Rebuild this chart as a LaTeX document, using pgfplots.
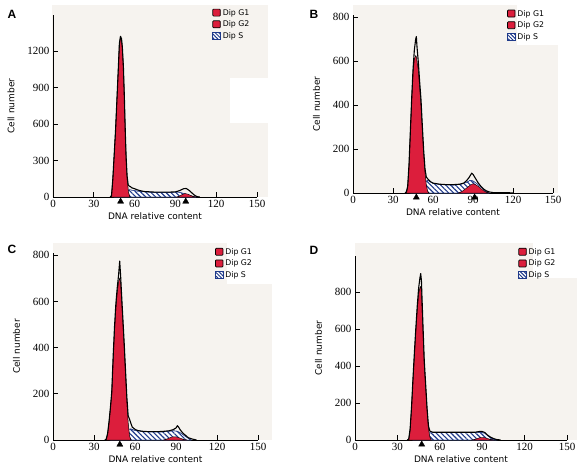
\documentclass[border=0pt]{standalone}
\usepackage{pgfplots}
\pgfplotsset{compat=1.18}
\usepackage{fontspec}
\usetikzlibrary{patterns,patterns.meta}
\setmainfont{DejaVu Sans}
\newfontfamily\tickfont{Liberation Serif}
\newfontfamily\letfont{Liberation Sans}
\definecolor{bgc}{HTML}{F6F3EF}
\definecolor{redc}{HTML}{DC1E3C}
\definecolor{hatc}{HTML}{1F3A8A}

\pgfplotsset{
  flow/.style={
    scale only axis, axis lines=left, axis line style={-, line width=0.8pt},
    xmin=0, xmax=150, ymin=0, xtick={0,30,...,150},
    tick align=inside, major tick length=5pt, tick style={black, line width=0.8pt},
    clip=false,
    tick label style={font=\tickfont\fontsize{11}{13}\selectfont},
    /pgf/number format/assume math mode=true,
    /pgf/number format/1000 sep={},
    label style={font=\fontsize{9}{11}\selectfont},
    xlabel={DNA relative content}, ylabel={Cell number},
    xlabel style={yshift=2pt},
    ylabel style={yshift=6pt},
    legend style={draw=none, fill=none, font=\fontsize{7.8}{8}\selectfont, anchor=north west,
      row sep=0.3pt, inner sep=0pt, cells={anchor=west}},
    legend cell align=left,
  },
  g1/.style={fill=redc, draw=black, line width=0.5pt},
  g2/.style={fill=redc, draw=black, line width=0.4pt},
  sph/.style={fill=white, draw=hatc, line width=0.4pt,
    postaction={pattern={Lines[angle=-45,distance=3.5pt,line width=1.1pt]}, pattern color=hatc}},
  tot/.style={draw=black, line width=1.1pt, line join=round},
  tri/.style={only marks, mark=triangle*, mark size=3.5pt, black, forget plot},
  legR/.style={legend image code/.code={\draw[fill=redc,draw=black,line width=0.7pt,rounded corners=0.8pt] (0pt,-3.2pt) rectangle (7.5pt,3.8pt);}},
  legS/.style={legend image code/.code={\draw[fill=white,draw=hatc,line width=0.7pt,
     postaction={pattern={Lines[angle=-45,distance=2.6pt,line width=1pt]}, pattern color=hatc}] (0pt,-3.2pt) rectangle (7.5pt,3.8pt);}},
}

\begin{document}
\begin{tikzpicture}[x=1pt,y=1pt]
\path[use as bounding box] (0pt,0pt) rectangle (580pt,472pt);
% backgrounds
\fill[bgc] (52pt,275pt) rectangle (268pt,467pt);
\fill[white] (230pt,349pt) rectangle (268pt,394pt);
\fill[bgc] (353pt,279pt) rectangle (558pt,467pt);
\fill[white] (517pt,427pt) rectangle (558pt,467pt);
\fill[bgc] (53pt,32pt) rectangle (272pt,229pt);
\fill[white] (227pt,188pt) rectangle (272pt,229pt);
\fill[bgc] (355pt,32pt) rectangle (577pt,229pt);
\fill[white] (533pt,194pt) rectangle (577pt,229pt);
% panel letters
\node[font=\letfont\bfseries\fontsize{12}{14}\selectfont] at (12pt,458pt) {A};
\node[font=\letfont\bfseries\fontsize{12}{14}\selectfont] at (314pt,458pt) {B};
\node[font=\letfont\bfseries\fontsize{12}{14}\selectfont] at (12pt,223pt) {C};
\node[font=\letfont\bfseries\fontsize{12}{14}\selectfont] at (314pt,222pt) {D};

% ---------- A ----------
\begin{axis}[flow, at={(53pt,275pt)}, anchor=south west, width=204pt, height=182pt,
  ymax=1495, ytick={0,300,...,1200},
  legend style={at={(0.78,1.044)}}]
\addlegendimage{legR}\addlegendentry{Dip G1}
\addlegendimage{legR}\addlegendentry{Dip G2}
\addlegendimage{legS}\addlegendentry{Dip S}
\addplot[sph, forget plot] coordinates {(45,0)(48,20)(52,40)(56,60)(60,52)(65,44)(75,38)(85,38)(92,40)(96,30)(100,15)(103,5)(105,0)} \closedcycle;
\addplot[g1, forget plot] coordinates {(43,0)(44,150)(45,350)(46,550)(47,800)(48,1050)(48.8,1250)(49.6,1310)(50.4,1285)(51,1220)(51.8,1050)(52.5,800)(53.2,500)(53.8,300)(54.5,150)(55.5,40)(56.5,0)} \closedcycle;
\addplot[g2, forget plot] coordinates {(91,0)(93,8)(95,20)(97,28)(99,24)(101,14)(103,5)(105,0)} \closedcycle;
\addplot[tot, forget plot] coordinates {(42,0)(43,10)(44,150)(45,350)(46,550)(47,800)(48,1050)(48.8,1260)(49.6,1320)(50.4,1300)(51,1230)(51.8,1060)(52.5,810)(53.2,520)(53.8,320)(54.5,170)(55.3,100)(56,90)(57,85)(58,75)(60,68)(63,55)(67,45)(75,40)(85,40)(90,42)(93,52)(96,68)(98,70)(100,55)(102,35)(104,15)(106,3)(108,0)};
\addplot[tri] coordinates {(49.7,-37)(97.6,-37)};
\end{axis}

% ---------- B ----------
\begin{axis}[flow, at={(353pt,279pt)}, anchor=south west, width=200pt, height=178pt,
  ymax=810, ytick={0,200,...,800},
  legend style={at={(0.77,1.04)}}]
\addlegendimage{legR}\addlegendentry{Dip G1}
\addlegendimage{legR}\addlegendentry{Dip G2}
\addlegendimage{legS}\addlegendentry{Dip S}
\addplot[sph, forget plot] coordinates {(43,0)(46,12)(50,30)(53,45)(56,58)(60,44)(65,39)(75,36)(80,38)(85,48)(88,58)(90,55)(93,42)(96,26)(99,10)(102,0)} \closedcycle;
\addplot[g1, forget plot] coordinates {(40,0)(41,25)(42,120)(43,270)(44,420)(45,545)(46,610)(47,625)(47.5,620)(48,600)(49,560)(50,480)(51,400)(52,290)(53,180)(54,95)(55,35)(56,8)(57,0)} \closedcycle;
\addplot[g2, forget plot] coordinates {(79,0)(82,8)(85,22)(88,36)(90,42)(92,38)(94,30)(96,20)(98,10)(100,4)(102,0)} \closedcycle;
\addplot[tot, forget plot] coordinates {(39,0)(40,5)(41,30)(42,130)(43,280)(44,430)(45,560)(46,650)(47,700)(47.5,712)(48,665)(49,595)(50,505)(51,425)(52,305)(53,195)(54,110)(55,72)(56,65)(58,52)(60,45)(65,40)(70,38)(75,38)(80,40)(83,45)(85,55)(87,70)(88,80)(89,90)(90,85)(91,75)(92,65)(94,45)(96,30)(98,18)(100,10)(102,5)(105,2)(110,1)(115,2)(120,0)};
\addplot[tri] coordinates {(47.5,-20)(91.2,-20)};
\end{axis}

% ---------- C ----------
\begin{axis}[flow, at={(53pt,32pt)}, anchor=south west, width=205pt, height=187pt,
  ymax=810, ytick={0,200,...,800},
  legend style={at={(0.79,1.037)}}]
\addlegendimage{legR}\addlegendentry{Dip G1}
\addlegendimage{legR}\addlegendentry{Dip G2}
\addlegendimage{legS}\addlegendentry{Dip S}
\addplot[sph, forget plot] coordinates {(42,0)(46,15)(50,30)(54,45)(57,48)(60,41)(70,35)(80,35)(88,40)(91,38)(94,28)(97,15)(101,0)} \closedcycle;
\addplot[g1, forget plot] coordinates {(39,0)(40,28)(41,75)(42,135)(43,200)(44,345)(45,475)(46,570)(47,640)(48,685)(48.8,700)(49.5,685)(50,630)(51,525)(52,415)(53,295)(54,175)(55,75)(56,18)(57,0)} \closedcycle;
\addplot[g2, forget plot] coordinates {(81,0)(84,6)(87,13)(90,14)(93,8)(96,2)(98,0)} \closedcycle;
\addplot[tot, forget plot] coordinates {(38,0)(39,5)(40,30)(41,80)(42,140)(43,210)(44,360)(45,490)(46,590)(47,660)(48,715)(48.8,775)(49.5,710)(50,650)(51,540)(52,430)(53,310)(54,190)(55,105)(56,90)(57,72)(58,56)(60,46)(62,41)(65,38)(70,36)(75,36)(80,37)(85,40)(88,45)(90,52)(91,62)(92,55)(93,45)(95,30)(97,20)(99,10)(102,4)(105,0)};
\addplot[tri] coordinates {(48.9,-19.5)};
\end{axis}

% ---------- D ----------
\begin{axis}[flow, at={(355pt,32pt)}, anchor=south west, width=212pt, height=184pt,
  ymax=995, ytick={0,200,...,800},
  legend style={at={(0.77,1.054)}}]
\addlegendimage{legR}\addlegendentry{Dip G1}
\addlegendimage{legR}\addlegendentry{Dip G2}
\addlegendimage{legS}\addlegendentry{Dip S}
\addplot[sph, forget plot] coordinates {(41,0)(44,12)(48,28)(52,38)(56,40)(85,40)(89,42)(92,36)(94,22)(97,8)(100,0)} \closedcycle;
\addplot[g1, forget plot] coordinates {(38,0)(39,55)(40,170)(41,320)(42,455)(43,585)(44,700)(45,790)(46,825)(46.5,830)(47,800)(48,610)(49,410)(50,285)(51,160)(52,60)(53,15)(54,0)} \closedcycle;
\addplot[g2, forget plot] coordinates {(83,0)(86,7)(89,14)(92,12)(95,5)(98,0)} \closedcycle;
\addplot[tot, forget plot] coordinates {(37,0)(38,5)(39,60)(40,180)(41,330)(42,470)(43,600)(44,720)(45,820)(46,880)(46.5,900)(47,860)(48,640)(49,430)(50,300)(51,170)(52,75)(53,48)(55,42)(60,42)(65,42)(70,42)(75,42)(80,42)(85,42)(88,46)(90,46)(92,40)(94,25)(96,15)(98,8)(100,3)(103,0)};
\addplot[tri] coordinates {(47.2,-24)};
\end{axis}
\end{tikzpicture}
\end{document}
